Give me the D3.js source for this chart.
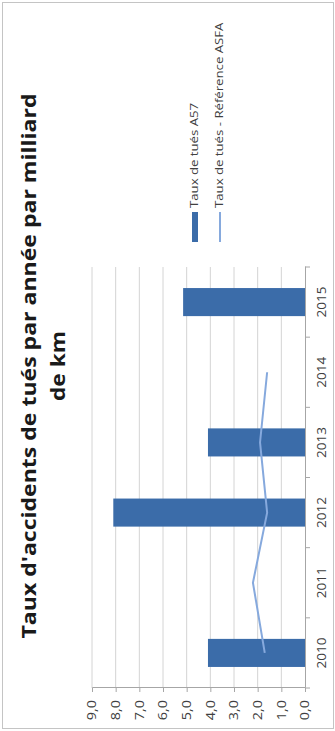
<!DOCTYPE html>
<html>
<head>
<meta charset="utf-8">
<script src="https://cdn.jsdelivr.net/npm/d3@7"></script>
<style>
  body { margin: 0; background: #fff; }
  svg { display: block; }
</style>
</head>
<body>
<div id="chart"></div>
<script>
var years = ["2010", "2011", "2012", "2013", "2014", "2015"];
var tauxA57 = [4.1, null, 8.1, 4.1, null, 5.15];
var tauxASFA = [1.7, 2.2, 1.6, 1.9, 1.6, null];
var valueTicks = [0, 1, 2, 3, 4, 5, 6, 7, 8, 9];
var titleLines = ["Taux d'accidents de tués par année par milliard", "de km"];
var legendLabels = ["Taux de tués A57", "Taux de tués - Référence ASFA"];

var width = 335, height = 731;
var barColor = "#3b6ca9";
var lineColor = "#86a9dd";
var font = "'Open Sans', sans-serif";

var svg = d3.select("#chart").append("svg")
    .attr("width", width)
    .attr("height", height);

// cadre
svg.append("rect")
    .attr("x", 2.5).attr("y", 2.5)
    .attr("width", width - 4).attr("height", height - 5)
    .attr("fill", "#fff")
    .attr("stroke", "#c4c4c4");

// le graphique est dessiné à l'horizontale puis tourné de -90°
// (l'image d'origine est un peu étirée dans le sens de la longueur)
var g = svg.append("g")
    .attr("transform", "translate(0," + height + ") rotate(-90)");

var x = d3.scaleBand()
    .domain(years)
    .range([43, 464]);

var xBar = d3.scaleBand()
    .domain(years)
    .range([43, 464])
    .paddingInner(0.6)
    .paddingOuter(0.3);

var y = d3.scaleLinear()
    .domain([0, 9])
    .range([305, 92]);

// grille
g.append("g")
    .selectAll("line")
    .data(valueTicks.slice(1))
    .enter()
    .append("line")
    .attr("x1", 43).attr("x2", 464)
    .attr("y1", d => y(d)).attr("y2", d => y(d))
    .attr("stroke", "#d4d4d4")
    .attr("stroke-width", 1);

// axe des valeurs
var yAxis = g.append("g")
    .attr("transform", "translate(43,0)")
    .call(d3.axisLeft(y)
        .tickValues(valueTicks)
        .tickFormat(d => d3.format(".1f")(d).replace(".", ","))
        .tickSize(4)
        .tickPadding(6));
yAxis.select(".domain").attr("stroke", "#a6a6a6");
yAxis.selectAll(".tick line").attr("stroke", "#a6a6a6");
yAxis.selectAll("text")
    .attr("transform", "scale(1.2,1)")
    .style("font-family", font)
    .style("font-size", "12px")
    .attr("fill", "#404040");

// barres
g.append("g")
    .attr("fill", barColor)
    .selectAll("rect")
    .data(years.map((d, i) => ({ key: d, value: tauxA57[i] })).filter(d => d.value != null))
    .enter()
    .append("rect")
    .attr("x", d => xBar(d.key))
    .attr("y", d => y(d.value))
    .attr("width", xBar.bandwidth())
    .attr("height", d => y(0) - y(d.value));

// courbe référence
var line = d3.line()
    .defined(d => d.value != null)
    .x(d => x(d.key) + x.bandwidth() / 2)
    .y(d => y(d.value));

g.append("path")
    .datum(years.map((d, i) => ({ key: d, value: tauxASFA[i] })))
    .attr("d", line)
    .attr("fill", "none")
    .attr("stroke", lineColor)
    .attr("stroke-width", 2);

// axe des catégories
var xAxis = g.append("g")
    .attr("transform", "translate(0,305)")
    .call(d3.axisBottom(x)
        .tickSize(0)
        .tickPadding(12));
xAxis.select(".domain").attr("stroke", "#a6a6a6");
xAxis.selectAll("text")
    .attr("transform", "scale(1.13,1)")
    .style("font-family", font)
    .style("font-size", "12px")
    .attr("fill", "#404040");

// graduations entre les catégories
g.append("g")
    .selectAll("line")
    .data(years.map(d => x(d)).concat([x(years[years.length - 1]) + x.bandwidth()]))
    .enter()
    .append("line")
    .attr("x1", d => d).attr("x2", d => d)
    .attr("y1", 305).attr("y2", 310)
    .attr("stroke", "#a6a6a6");

// titre
g.append("g")
    .selectAll("text")
    .data(titleLines)
    .enter()
    .append("text")
    .attr("x", 365)
    .attr("y", (d, i) => 36 + i * 29)
    .attr("text-anchor", "middle")
    .attr("textLength", (d, i) => i == 0 ? 545 : 70)
    .attr("lengthAdjust", "spacingAndGlyphs")
    .style("font-family", font)
    .style("font-size", "20px")
    .style("font-weight", "bold")
    .attr("fill", "#1a1a1a")
    .text(d => d);

// légende
var legend = g.append("g");
legend.append("rect")
    .attr("x", 489).attr("y", 192)
    .attr("width", 30).attr("height", 6)
    .attr("fill", barColor);
legend.append("line")
    .attr("x1", 489).attr("x2", 519)
    .attr("y1", 220).attr("y2", 220)
    .attr("stroke", lineColor)
    .attr("stroke-width", 2);
legend.selectAll("text")
    .data(legendLabels)
    .enter()
    .append("text")
    .attr("transform", (d, i) => "translate(523," + (198 + i * 25) + ") scale(1.2,1)")
    .style("font-family", font)
    .style("font-size", "11px")
    .attr("fill", "#404040")
    .text(d => d);
</script>
</body>
</html>
